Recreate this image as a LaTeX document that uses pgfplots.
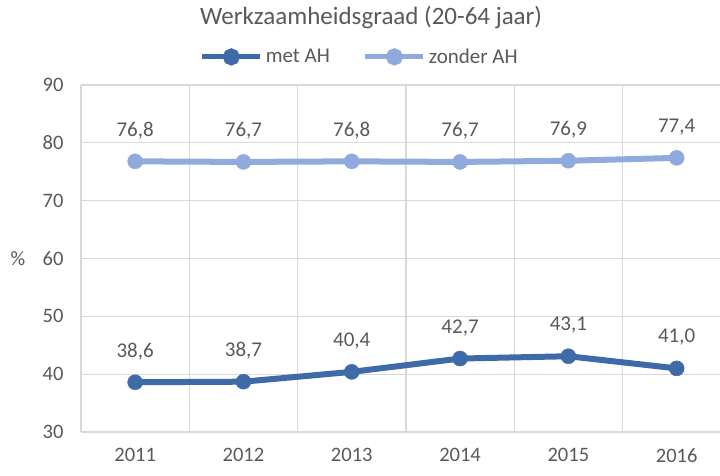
\documentclass[border=0pt]{standalone}
\usepackage{pgfplots}
\pgfplotsset{compat=1.18}
\usepackage{fontspec}
\setmainfont{Carlito}
\definecolor{darkb}{HTML}{3F6AA8}
\definecolor{lightb}{HTML}{8FAADC}
\definecolor{txt}{HTML}{595959}
\definecolor{grd}{HTML}{D9D9D9}
\begin{document}
\begin{tikzpicture}[x=1pt,y=1pt]
\path[use as bounding box] (0,0) rectangle (720,475);
\begin{axis}[
  at={(81pt,43pt)}, anchor=south west,
  scale only axis, width=639pt, height=347pt,
  xmin=-0.5, xmax=5.4, ymin=30, ymax=90,
  xtick={0,...,5}, xticklabels={2011,2012,2013,2014,2015,2016},
  minor xtick={0.5,1.5,2.5,3.5,4.5},
  ytick={30,40,...,90},
  xminorgrids, ymajorgrids,
  grid style={grd, line width=1.2pt},
  minor grid style={grd, line width=1.2pt},
  axis x line*=bottom, axis y line*=left,
  axis line style={grd, line width=1.2pt, -},
  major tick length=0pt, minor tick length=0pt,
  ticklabel style={font=\fontsize{20.5}{24}\selectfont, text=txt},
  xticklabel style={yshift=-13pt},
  yticklabel style={xshift=-14pt},
  /pgf/number format/assume math mode=true,
  ylabel={\%},
  ylabel style={at={(axis description cs:-0.0986,0.5)}, rotate=-90, anchor=center, font=\fontsize{20.5}{24}\selectfont, text=txt},
  nodes near coords,
  nodes near coords style={font=\fontsize{21}{25}\selectfont, text=txt, anchor=center, yshift=31pt,
    /pgf/number format/.cd, fixed, fixed zerofill, precision=1, use comma, assume math mode=true},
  legend style={at={(rel axis cs:0.437,1.081)}, anchor=center, draw=none, fill=none,
    font=\fontsize{21}{25}\selectfont, text=txt, legend columns=2,
    /tikz/every even column/.append style={column sep=30pt}, inner sep=0pt,
    nodes={inner xsep=3pt}},
  legend image code/.code={\draw[#1, line width=5pt] (0pt,0pt) -- (58pt,0pt); \fill[#1] (29pt,0pt) circle (5.5pt);},
  every axis plot/.append style={line width=6pt, mark=*, mark size=7.5pt},
  clip=false,
]
\addplot[darkb, mark options={fill=darkb, draw=darkb, line width=0.5pt}] coordinates {(0,38.6) (1,38.7) (2,40.4) (3,42.7) (4,43.1) (5,41.0)};
\addlegendentry{met AH}
\addplot[lightb, mark options={fill=lightb, draw=lightb, line width=0.5pt}] coordinates {(0,76.8) (1,76.7) (2,76.8) (3,76.7) (4,76.9) (5,77.4)};
\addlegendentry{zonder AH}
\end{axis}
\node[font=\fontsize{25}{30}\selectfont, text=txt] at (371,457) {Werkzaamheidsgraad (20-64 jaar)};
\end{tikzpicture}
\end{document}
